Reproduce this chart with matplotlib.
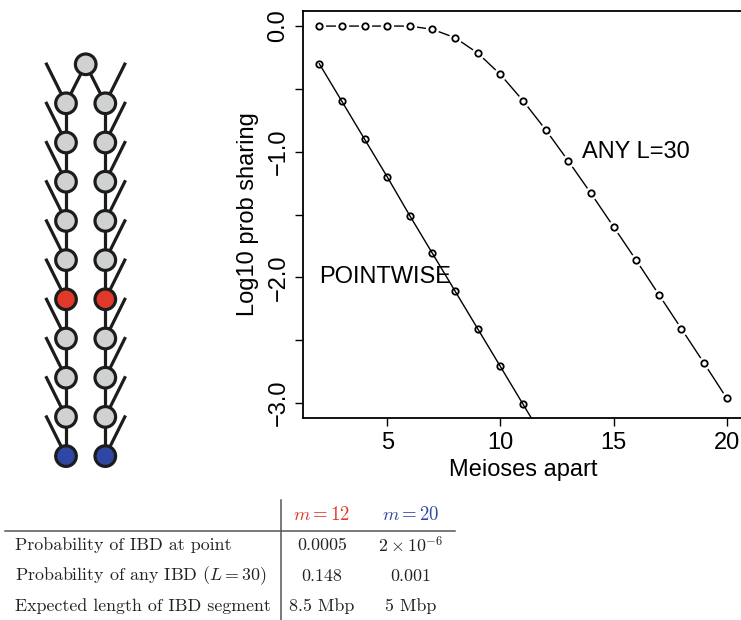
import matplotlib
matplotlib.use("Agg")
from matplotlib import pyplot as plt
from matplotlib.patches import Circle

# meioses apart
meioses = list(range(2, 21))
# log10 probability of sharing at a point
pointwise = [-0.30, -0.60, -0.90, -1.20, -1.51, -1.81, -2.11, -2.41, -2.71, -3.01,
             -3.31, -3.61, -3.91, -4.21, -4.52, -4.82, -5.12, -5.42, -5.72]
# log10 probability of sharing any segment, L=30
any_l30 = [0.0, 0.0, 0.0, 0.0, 0.0, -0.026, -0.093, -0.215, -0.385, -0.594,
           -0.825, -1.074, -1.331, -1.597, -1.864, -2.137, -2.41, -2.684, -2.962]

# pedigree: colour of each generation below the common ancestor
gen_colors = ["#d0d2d1"] * 5 + ["#e0392b"] + ["#d0d2d1"] * 3 + ["#2f47a2"]
top_color = "#d0d2d1"

# table
row_labels = ["Probability of IBD at point",
              "Probability of any IBD ($L=30$)",
              "Expected length of IBD segment"]
col_labels = [r"$m=12$", r"$m=20$"]
col_colors = ["#e0392b", "#2f47a2"]
cells = [["0.0005", r"$2\times10^{-6}$"],
         ["0.148", "0.001"],
         ["8.5 Mbp", "5 Mbp"]]

plt.rcParams['font.family'] = ['Liberation Sans', 'DejaVu Sans']
plt.rcParams['mathtext.fontset'] = 'cm'

W, H = 741, 620
fig = plt.figure(figsize=(W / 100, H / 100), dpi=100)

# overlay in pixel coordinates for pedigree and table
ov = fig.add_axes([0, 0, 1, 1])
ov.set_xlim(0, W)
ov.set_ylim(H, 0)
ov.axis("off")

edge = "#1c1c1c"
lw = 2.3
top = (85.7, 64.3)
cols_x = [66.0, 105.3]
y0, dy, dx = 103.3, 39.2, 19.5
for side, cx in enumerate(cols_x):
    sgn = -1 if side == 0 else 1
    ov.plot([top[0], cx], [top[1], y0], color=edge, lw=lw, zorder=1)
    for i, c in enumerate(gen_colors):
        cy = y0 + i * dy
        ov.plot([cx, cx + sgn * dx], [cy, cy - dy], color=edge, lw=lw, zorder=1)
        if i > 0:
            ov.plot([cx, cx], [cy - dy, cy], color=edge, lw=lw, zorder=1)
        ov.add_patch(Circle((cx, cy), 10.3, facecolor=c, edgecolor=edge, lw=lw, zorder=2))
ov.add_patch(Circle(top, 10.3, facecolor=top_color, edgecolor=edge, lw=lw, zorder=2))

# table
fs = 12.9
tfont = ["cmr10", "DejaVu Serif"]
ov.plot([5, 455], [531, 531], color="#555555", lw=1.1)
ov.plot([281, 281], [500, 620], color="#555555", lw=1.1)
col_x = [322, 411]
for x, lab, c in zip(col_x, col_labels, col_colors):
    ov.text(x, 515, lab, color=c, fontsize=fs + 0.6, ha="center", va="center", family=tfont)
row_y = [545, 576, 606]
for y, lab, vals in zip(row_y, row_labels, cells):
    ov.text(15, y, lab, fontsize=fs, ha="left", va="center", color="#222222", family=tfont)
    for x, v in zip(col_x, vals):
        ov.text(x, y, v, fontsize=fs, ha="center", va="center", color="#222222", family=tfont)

# main plot
ax = fig.add_axes([303 / W, (H - 418) / H, (743 - 303) / W, (418 - 11) / H])
ax.set_facecolor("none")
ax.plot(meioses, pointwise, color="black", lw=1.0, marker="o", markersize=4.6,
        markerfacecolor="none", markeredgewidth=1.3, clip_on=True)
ax.plot(meioses, any_l30, color="black", lw=1.0, zorder=2)
ax.plot(meioses, any_l30, linestyle="none", marker="o", markersize=9.5,
        markerfacecolor="white", markeredgecolor="none", zorder=3)
ax.plot(meioses, any_l30, linestyle="none", marker="o", markersize=4.6,
        markerfacecolor="none", markeredgecolor="black", markeredgewidth=1.3, zorder=4)
ax.text(13.6, -1.0, "ANY L=30", fontsize=17, ha="left", va="center", zorder=5)
ax.text(2.0, -2.0, "POINTWISE", fontsize=17, ha="left", va="center", zorder=5)

ax.set_xlim(1.28, 20.72)
ax.set_ylim(-3.12, 0.12)
ax.set_xticks([5, 10, 15, 20])
ax.set_yticks([-3.0, -2.5, -2.0, -1.5, -1.0, -0.5, 0.0])
ax.set_yticklabels(["\u22123.0", "", "\u22122.0", "", "\u22121.0", "", "0.0"],
                   rotation=90, va="center")
ax.tick_params(axis="both", labelsize=17, length=5.8, width=1.0, pad=4)
ax.set_xlabel("Meioses apart", fontsize=17, labelpad=4)
ax.set_ylabel("Log10 prob sharing", fontsize=17, labelpad=6)
for s in ax.spines.values():
    s.set_linewidth(1.3)

fig.savefig("out.png", dpi=100)
